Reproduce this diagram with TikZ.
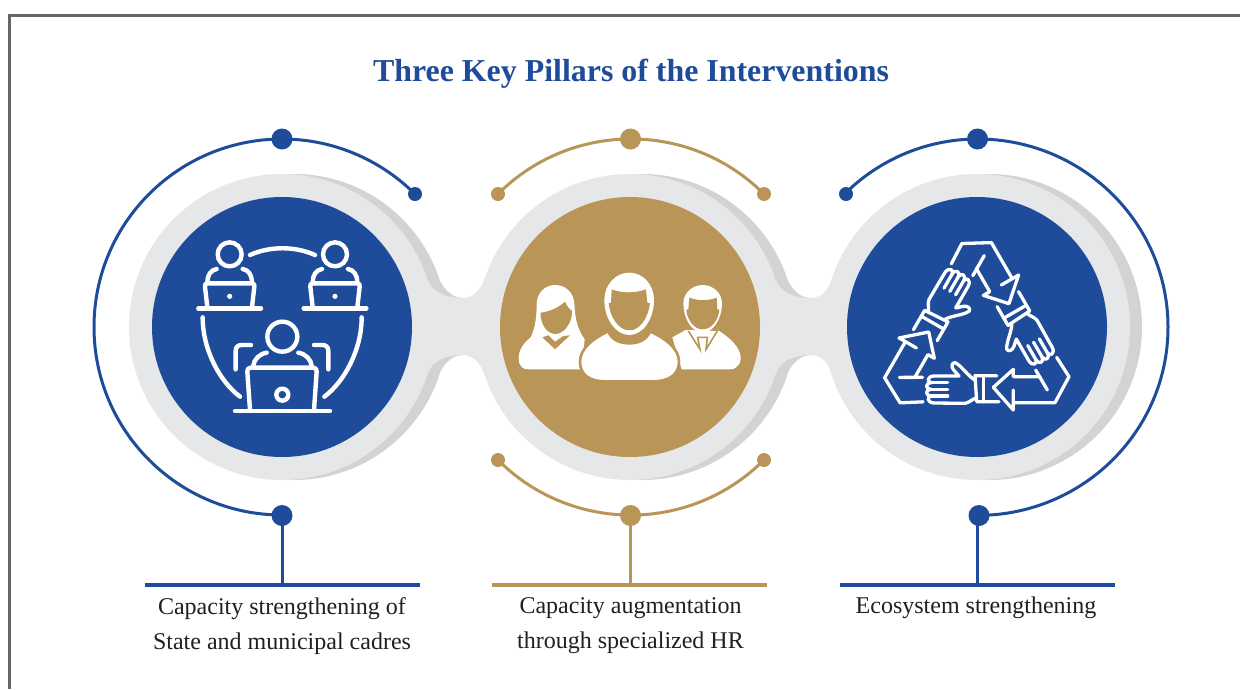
\documentclass[tikz,border=0pt]{standalone}
\usepackage{fontspec}
\setmainfont{Liberation Serif}
\definecolor{pblue}{HTML}{1F4C9A}
\definecolor{pgold}{HTML}{BA9558}
\definecolor{plight}{HTML}{E6E7E8}
\definecolor{pdark}{HTML}{D1D3D4}
\definecolor{ptext}{HTML}{231F20}
\definecolor{pframe}{HTML}{666666}
\tikzset{
  bigdot/.style={circle,inner sep=0pt,minimum size=21pt},
  smalldot/.style={circle,inner sep=0pt,minimum size=14pt},
  ringline/.style={line width=3pt},
  barline/.style={line width=3.5pt},
  stemline/.style={line width=3pt},
  caption/.style={font=\fontsize{24}{35}\selectfont,text=ptext,align=center,inner sep=0pt,anchor=north},
  iconline/.style={draw=white,line width=4.4pt,line cap=round,line join=round},
  handline/.style={draw=white,line width=3.3pt,line cap=round,line join=round},
}
\newcommand{\darkneck}[1]{%
  \fill[pdark,xshift=#1pt] (400,327) -- (440,281) .. controls (446,292) and (454,298) .. (463,298) -- (463,355) .. controls (454,355) and (446,361) .. (440,372) -- cycle;}
\newcommand{\lightneck}[1]{%
  \fill[plight,xshift=#1pt] (428,280) .. controls (433,293) and (447,298) .. (463,298) .. controls (473,298) and (481,290) .. (485,277) -- (485,376) .. controls (481,363) and (473,355) .. (463,355) .. controls (447,355) and (433,360) .. (428,373) -- cycle;}
\begin{document}
\begin{tikzpicture}[x=1pt,y=-1pt]
\useasboundingbox (0,0) rectangle (1240,689);
\fill[white] (0,0) rectangle (1240,689);
\draw[pframe,line width=2.6pt] (9.5,689) -- (9.5,15.5) -- (1240,15.5);
\node[font=\fontsize{31.9}{36}\bfseries\selectfont,text=pblue,inner sep=0pt] (title) at (631,74) {Three Key Pillars of the Interventions};
% discs
\foreach \c in {282,630,977}{
  \fill[pdark] (\c+12,327) circle[radius=153pt];}
\darkneck{0}
\darkneck{348}
\foreach \c in {282,630,977}{
  \fill[plight] (\c,327) circle[radius=153pt];}
\lightneck{0}
\lightneck{348}
\fill[pblue] (282,327) circle[radius=130pt];
\fill[pgold] (630,327) circle[radius=130pt];
\fill[pblue] (977,327) circle[radius=130pt];
% left ring
\node[bigdot,fill=pblue] (ltop) at (282,139) {};
\node[smalldot,fill=pblue] (lend) at (415,194) {};
\node[bigdot,fill=pblue] (lbot) at (282,515.5) {};
\coordinate (lbarl) at (145,585);\coordinate (lbarr) at (420,585);\coordinate (lbarm) at (282,585);
\draw[pblue,ringline] (ltop.center) arc[start angle=90,end angle=270,radius=188pt];
\draw[pblue,ringline] (ltop.center) arc[start angle=90,end angle=45,radius=188pt];
\draw[pblue,stemline] (lbot.center) -- (lbarm);
\draw[pblue,barline] (lbarl) -- (lbarr);
% middle ring
\node[bigdot,fill=pgold] (mtop) at (630.5,139) {};
\node[smalldot,fill=pgold] (mtl) at (498,194) {};
\node[smalldot,fill=pgold] (mtr) at (764,194) {};
\node[bigdot,fill=pgold] (mbot) at (630.5,515.5) {};
\node[smalldot,fill=pgold] (mbl) at (498,460) {};
\node[smalldot,fill=pgold] (mbr) at (764,460) {};
\coordinate (mbarl) at (492,585);\coordinate (mbarr) at (767,585);\coordinate (mbarm) at (630.5,585);
\draw[pgold,ringline] (mtl.center) arc[start angle=135,end angle=45,radius=188pt];
\draw[pgold,ringline] (mbl.center) arc[start angle=225,end angle=315,radius=188pt];
\draw[pgold,stemline] (mbot.center) -- (mbarm);
\draw[pgold,barline] (mbarl) -- (mbarr);
% right ring
\node[bigdot,fill=pblue] (rtop) at (977.5,139) {};
\node[smalldot,fill=pblue] (rend) at (846,194) {};
\node[bigdot,fill=pblue] (rbot) at (979,515.5) {};
\coordinate (rbarl) at (840,585);\coordinate (rbarr) at (1115,585);\coordinate (rbarm) at (977.5,585);
\coordinate (rstem) at (977.5,515.5);
\draw[pblue,ringline] (rtop.center) arc[start angle=90,end angle=-90,x radius=190.5pt,y radius=188.2pt];
\draw[pblue,ringline] (rtop.center) arc[start angle=90,end angle=135,radius=188pt];
\draw[pblue,stemline] (rstem) -- (rbarm);
\draw[pblue,barline] (rbarl) -- (rbarr);
% captions
\node[caption] (lcap) at (282,597) {Capacity strengthening of\\State and municipal cadres};
\node[caption] (mcap) at (630.5,597) {Capacity augmentation\\through specialized HR};
\node[caption] (rcap) at (976,597) {Ecosystem strengthening};
% icon 1
\begin{scope}[shift={(170,220)},x=.33333pt,y=-.33333pt]
\foreach \d in {0,316}{
  \begin{scope}[xshift=\d*.33333pt]
  \draw[iconline] (179,103) circle[radius=12pt];
  \draw[iconline] (140,147) .. controls (122,150) and (113,165) .. (112,185);
  \draw[iconline] (218,147) .. controls (236,150) and (245,165) .. (246,185);
  \draw[iconline] (112,262) -- (105,200) .. controls (104,193) and (106,190) .. (112,190) -- (246,190) .. controls (252,190) and (254,193) .. (253,200) -- (246,262);
  \draw[iconline] (85,265) -- (273,265);
  \fill[white] (179,229) circle[radius=2.6pt];
  \end{scope}}
\draw[iconline] (240,105) .. controls (300,78) and (375,78) .. (435,105);
\draw[iconline] (98,292) .. controls (98,390) and (150,485) .. (210,530);
\draw[iconline] (575,292) .. controls (575,390) and (523,485) .. (463,530);
\draw[iconline] (337,350) circle[radius=15pt];
\draw[iconline] (290,398) .. controls (268,402) and (252,418) .. (250,437);
\draw[iconline] (385,398) .. controls (407,402) and (423,418) .. (425,437);
\draw[iconline] (197,448) -- (197,393) .. controls (197,380) and (205,375) .. (215,375) -- (243,375);
\draw[iconline] (475,448) -- (475,393) .. controls (475,380) and (467,375) .. (457,375) -- (432,375);
\draw[iconline] (240,570) -- (232,455) .. controls (231,448) and (235,443) .. (242,443) -- (430,443) .. controls (437,443) and (441,448) .. (440,455) -- (432,570);
\draw[iconline] (195,573) -- (480,573);
\draw[iconline] (337,524) circle[radius=6pt];
\end{scope}
% icon 2
\begin{scope}[shift={(510,260)},x=.33333pt,y=-.33333pt]
% woman
\fill[white] (62,232) .. controls (78,200) and (80,160) .. (80,130) .. controls (82,95) and (108,75) .. (135,75) .. controls (165,75) and (190,95) .. (193,130) .. controls (195,170) and (200,205) .. (224,238) -- (215,328) -- (55,328) .. controls (38,328) and (26,318) .. (26,295) .. controls (26,270) and (40,250) .. (62,232) -- cycle;
\fill[pgold] (92,158) .. controls (120,155) and (150,140) .. (165,125) .. controls (172,140) and (178,148) .. (186,152) .. controls (188,190) and (160,222) .. (137,222) .. controls (110,222) and (90,190) .. (92,158) -- cycle;
\fill[pgold] (97,232) -- (135,268) -- (180,226) -- (160,228) -- (135,245) -- (115,226) -- cycle;
% right man
\fill[white] (527,210) -- (487,232) -- (515,328) -- (660,328) .. controls (685,328) and (697,305) .. (690,280) .. controls (680,250) and (650,228) .. (628,213) -- cycle;
\draw[pgold,line width=1.6pt] (535,213) -- (570,268) -- (563,232) -- (592,232) -- (588,268) -- (622,213);
\fill[white] (578,75) .. controls (610,75) and (636,100) .. (636,130) .. controls (636,175) and (610,218) .. (578,218) .. controls (546,218) and (520,175) .. (520,130) .. controls (520,100) and (546,75) .. (578,75) -- cycle;
\fill[pgold] (538,113) .. controls (565,123) and (595,123) .. (620,113) -- (622,148) -- (628,150) .. controls (625,180) and (605,208) .. (578,208) .. controls (552,208) and (532,180) .. (529,150) -- (535,148) -- cycle;
% centre man
\filldraw[fill=white,draw=pgold,line width=2.6pt] (295,214) .. controls (250,235) and (210,265) .. (210,305) .. controls (210,345) and (240,364) .. (285,364) -- (430,364) .. controls (475,364) and (507,345) .. (507,305) .. controls (507,265) and (465,235) .. (420,214) .. controls (410,240) and (385,250) .. (358,250) .. controls (330,250) and (305,240) .. (295,214) -- cycle;
\fill[white] (358,38) .. controls (400,38) and (432,75) .. (432,120) .. controls (432,175) and (400,225) .. (358,225) .. controls (316,225) and (283,175) .. (283,120) .. controls (283,75) and (316,38) .. (358,38) -- cycle;
\fill[pgold] (305,88) .. controls (335,100) and (375,100) .. (408,88) -- (412,128) -- (420,130) .. controls (415,170) and (392,211) .. (358,211) .. controls (325,211) and (300,170) .. (296,130) -- (303,128) -- cycle;
\end{scope}
% icon 3
\foreach \a in {0,120,240}{
\begin{scope}[shift={(977,341)},rotate=\a,x=.33333pt,y=-.33333pt,shift={(-306,-333)}]
\draw[handline] (545,382) -- (582,440) -- (540,518) -- (418,518);
\draw[handline] (415,480) -- (415,540) -- (355,472) -- (415,418) -- (415,440) -- (495,440);
\draw[handline] (482,420) -- (517,480);
\draw[handline] (365,437) -- (300,437) -- (305,515) -- (372,515);
\draw[handline] (325,437) -- (325,515);
\draw[handline] (300,450) .. controls (280,440) and (258,405) .. (240,398) .. controls (230,398) and (228,410) .. (236,420) -- (252,438) -- (178,438) .. controls (155,438) and (155,458) .. (170,458) .. controls (150,458) and (150,478) .. (168,478) .. controls (150,478) and (150,498) .. (170,498) .. controls (155,498) and (155,519) .. (178,519) -- (270,520) .. controls (282,518) and (292,508) .. (300,505);
\draw[handline] (170,458) -- (218,458);
\draw[handline] (168,478) -- (218,478);
\draw[handline] (170,498) -- (218,498);
\end{scope}}
\end{tikzpicture}
\end{document}
